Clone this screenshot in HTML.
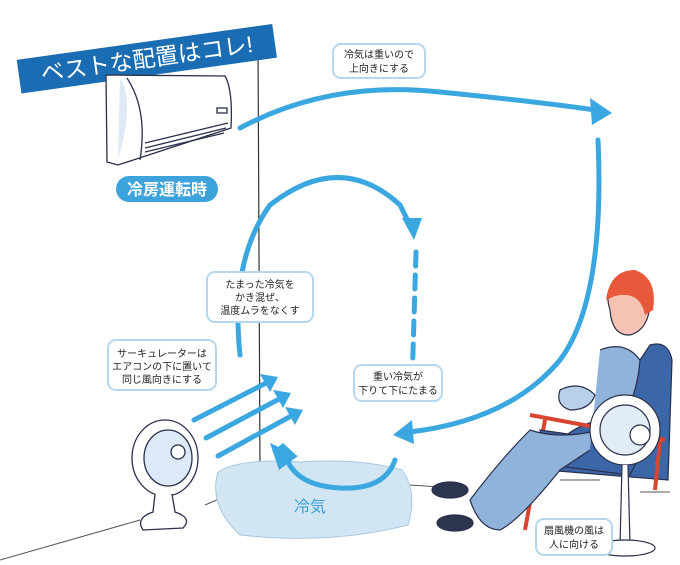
<!DOCTYPE html>
<html><head><meta charset="utf-8"><style>
body{margin:0;background:#fff}
svg{display:block}
text{font-family:"Liberation Sans","Noto Sans CJK JP",sans-serif}
</style></head><body>
<svg width="680" height="565" viewBox="0 0 680 565" xmlns="http://www.w3.org/2000/svg">
<rect width="680" height="565" fill="#fff"/>
<line x1="258" y1="40" x2="260" y2="470" stroke="#333" stroke-width="1.2"/>
<path d="M0 560 L140 520 M205 505 L240 490 M255 488 L400 490 M410 485 L440 487 M560 480 L600 480 M640 492 L670 492" stroke="#555" stroke-width="1" fill="none"/>
<g transform="rotate(-8 145 60)">
<rect x="18" y="42" width="258" height="34" fill="#1b6db3"/>
<text x="147" y="67" font-size="23" fill="#fff" text-anchor="middle">ベストな配置はコレ!</text>
</g>
<g stroke="#2a2f4a" stroke-width="1.3" fill="#fff">
<path d="M106 75 L225 76 Q233 90 231 128 L118 165 L107 162 Z"/>
<path d="M127 78 Q148 110 140 160" fill="none"/>
<path d="M120 78 Q135 100 118 160" fill="#dfe8f5" stroke="none"/>
<path d="M145 143 L228 123 M145 148 L226 128 M145 152 L224 133" fill="none"/>
<rect x="217" y="108" width="10" height="5" fill="none"/>
</g>
<rect x="116" y="176" width="102" height="26" rx="13" fill="#3ca3dc"/>
<text x="167" y="195" font-size="16" fill="#fff" text-anchor="middle" font-weight="bold">冷房運転時</text>
<!-- puddle -->
<path d="M218 472 Q240 458 300 462 Q360 458 402 470 Q418 492 408 525 Q330 545 240 535 Q208 505 218 472Z" fill="#d2e5f3" stroke="#a9c7e0"/>
<text x="310" y="512" font-size="16" fill="#3a9fd8" text-anchor="middle">冷気</text>
<g stroke="#3aa7e0" stroke-width="5" fill="none" stroke-linecap="round">
<path d="M240 128 Q330 80 440 92 Q540 102 595 110"/>
<path d="M598 140 Q605 300 560 360 Q510 420 410 432"/>
<path d="M240 355 Q230 260 270 205 Q340 150 400 205 L410 225"/>
<path d="M416 252 L412 385" stroke-dasharray="14 9"/>
<path d="M395 460 Q385 490 340 488 Q300 486 288 462"/>
<path d="M194 420 L268 382 M206 438 L281 398 M218 456 L293 415"/>
</g>
<g fill="#3aa7e0">
<polygon points="590,98 612,113 592,125"/>
<polygon points="402,218 422,218 414,240"/>
<polygon points="412,420 414,444 393,435"/>
<polygon points="272,452 296,455 283,443"/>
<polygon points="260,374 278,377 270,392"/>
<polygon points="273,390 291,393 283,408"/>
<polygon points="285,407 303,410 295,425"/>
</g>
<polygon points="270,443 298,456 279,470" fill="#3aa7e0"/>
<!-- circulator -->
<g stroke="#2a2f4a" stroke-width="1.3">
<ellipse cx="165" cy="458" rx="33" ry="38" fill="#fff"/>
<ellipse cx="168" cy="458" rx="24" ry="28" fill="#dce9f6"/>
<circle cx="178" cy="452" r="7" fill="#fff"/>
<path d="M155 494 L153 512 Q135 518 143 530 L183 528 Q193 518 175 512 L172 494" fill="#fff"/>
</g>
<!-- chair and person -->
<g stroke="#2a2f4a" stroke-width="1.2">
<path d="M650 345 Q668 340 672 360 L668 480 L545 470 Q555 430 600 420 Z" fill="#3b66a8"/>
<path d="M530 415 L665 440 M545 420 L525 530 M660 440 L655 490" stroke="#d9452f" stroke-width="4" fill="none"/>
<path d="M540 430 L645 445 L630 475 L550 465 Z" fill="#3b66a8"/>
<path d="M600 350 Q625 340 640 360 Q635 420 600 430 Q560 440 530 430 Q500 460 470 500 Q480 530 500 530 Q520 520 560 470 L590 450" fill="#8fb3da"/>
<path d="M610 310 Q602 285 625 283 Q650 283 650 305 Q648 330 630 335 Q612 336 610 310Z" fill="#f5c3b3"/>
<path d="M606 300 Q610 270 635 270 Q658 278 653 310 L645 315 Q640 290 615 296Z" fill="#e8583a" stroke="none"/>
<path d="M560 390 Q580 380 595 395 Q590 410 570 410 Q555 405 560 390Z" fill="#b8d0ea"/>
<ellipse cx="450" cy="490" rx="18" ry="8" fill="#2a3550"/>
<ellipse cx="455" cy="523" rx="18" ry="8" fill="#2a3550"/>
</g>
<g stroke="#2a2f4a" stroke-width="1.2">
<circle cx="625" cy="430" r="35" fill="#fff"/>
<circle cx="625" cy="430" r="25" fill="#e1ecf7"/>
<circle cx="640" cy="435" r="10" fill="#fff"/>
<path d="M622 465 L620 545 L630 545 L628 465" fill="#fff"/>
<ellipse cx="625" cy="548" rx="30" ry="8" fill="#fff"/>
</g>
<g fill="#fff" stroke="#b5d8ef" stroke-width="2">
<rect x="333" y="44" width="92" height="34" rx="8"/>
<rect x="207" y="272" width="106" height="50" rx="8"/>
<rect x="108" y="340" width="108" height="50" rx="8"/>
<rect x="354" y="365" width="88" height="36" rx="8"/>
<rect x="536" y="519" width="76" height="36" rx="8"/>
</g>
<g font-size="10" fill="#222" text-anchor="middle">
<text x="379" y="58">冷気は重いので</text><text x="379" y="72">上向きにする</text>
<text x="260" y="288">たまった冷気を</text><text x="260" y="301">かき混ぜ、</text><text x="260" y="314">温度ムラをなくす</text>
<text x="162" y="357">サーキュレーターは</text><text x="162" y="370">エアコンの下に置いて</text><text x="162" y="383">同じ風向きにする</text>
<text x="398" y="380">重い冷気が</text><text x="398" y="394">下りて下にたまる</text>
<text x="574" y="534">扇風機の風は</text><text x="574" y="548">人に向ける</text>
</g>
</svg>
</body></html>
